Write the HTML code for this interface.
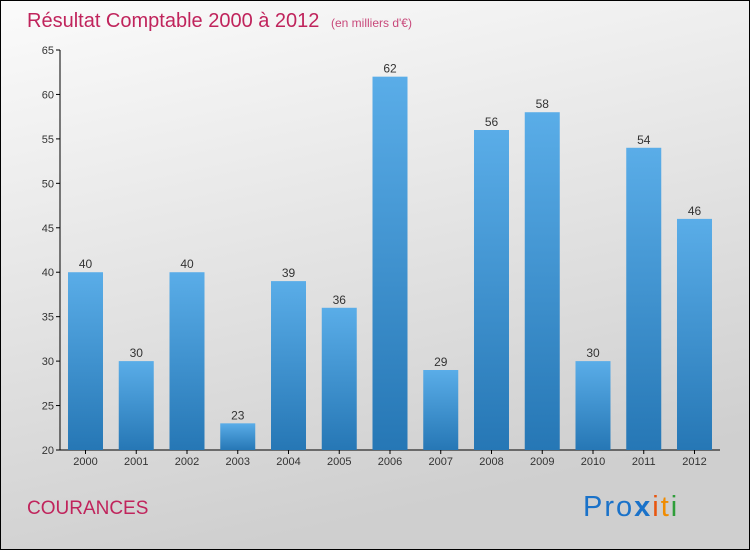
<!DOCTYPE html>
<html><head><meta charset="utf-8"><style>
html,body{margin:0;padding:0}
body{width:750px;height:550px;overflow:hidden;font-family:"Liberation Sans",sans-serif}
</style></head><body>
<svg width="750" height="550" viewBox="0 0 750 550">
<defs>
<linearGradient id="bg" x1="0" y1="0" x2="0.3" y2="1"><stop offset="0" stop-color="#fbfbfb"/><stop offset="1" stop-color="#cfcfcf"/></linearGradient>
<linearGradient id="bar" x1="0" y1="0" x2="0" y2="1"><stop offset="0" stop-color="#5aade8"/><stop offset="1" stop-color="#2677b5"/></linearGradient>
</defs>
<rect x="0.5" y="0.5" width="749" height="549" fill="url(#bg)" stroke="#000"/>
<text x="27" y="27" font-size="20" fill="#c0245c">Résultat Comptable 2000 à 2012 <tspan font-size="12" dx="6" fill="#c8487a">(en milliers d'€)</tspan></text>
<g id="axes"></g>
<g id="bars"></g>
<text x="27" y="514" font-size="19" fill="#c0245c">COURANCES</text>
<text x="583" y="516" font-size="29" letter-spacing="2"><tspan fill="#1a72c9">Pro</tspan><tspan fill="#1a72c9" font-weight="bold">x</tspan><tspan fill="#e8560f">i</tspan><tspan fill="#f08c00">t</tspan><tspan fill="#2f9e3a">i</tspan></text>
</svg>
<script>
const categories=["2000","2001","2002","2003","2004","2005","2006","2007","2008","2009","2010","2011","2012"];
const values=[40,30,40,23,39,36,62,29,56,58,30,54,46];
const yTicks=[20,25,30,35,40,45,50,55,60,65];
const NS="http://www.w3.org/2000/svg";
const y0=450,y1=50,vmin=20,vmax=65;
const y=v=>y0-(v-vmin)*(y0-y1)/(vmax-vmin);
const x=i=>85.5+i*50.75;
const bw=35;
function mk(t,a,p){const e=document.createElementNS(NS,t);for(const k in a)e.setAttribute(k,a[k]);p.appendChild(e);return e;}
const ax=document.getElementById('axes'),bg=document.getElementById('bars');
let l=mk('line',{x1:60,y1:y1,x2:60,y2:y0,stroke:'#000'},ax);


l=mk('line',{x1:60,y1:y0,x2:720,y2:y0,stroke:'#000'},ax);


yTicks.forEach(v=>{
 mk('line',{x1:56,y1:y(v),x2:60,y2:y(v),stroke:'#000'},ax);
 const t=mk('text',{x:54,y:y(v)+4,'font-size':11,'text-anchor':'end',fill:'#333'},ax);
 t.textContent=v;
 
 
});
categories.forEach((c,i)=>{
 const cx=x(i);
 mk('line',{x1:cx,y1:y0,x2:cx,y2:y0+4,stroke:'#000'},ax);
 const t=mk('text',{x:cx,y:y0+15,'font-size':11,'text-anchor':'middle',fill:'#333'},ax);
 t.textContent=c;
 
 
 const r=mk('rect',{x:cx-bw/2,y:y(values[i]),width:bw,height:y0-y(values[i]),fill:'url(#bar)'},bg);
 
 
 const v=mk('text',{x:cx,y:y(values[i])-4,'font-size':12,'text-anchor':'middle',fill:'#333'},bg);
 v.textContent=values[i];
 
 
});
</script>
</body></html>
